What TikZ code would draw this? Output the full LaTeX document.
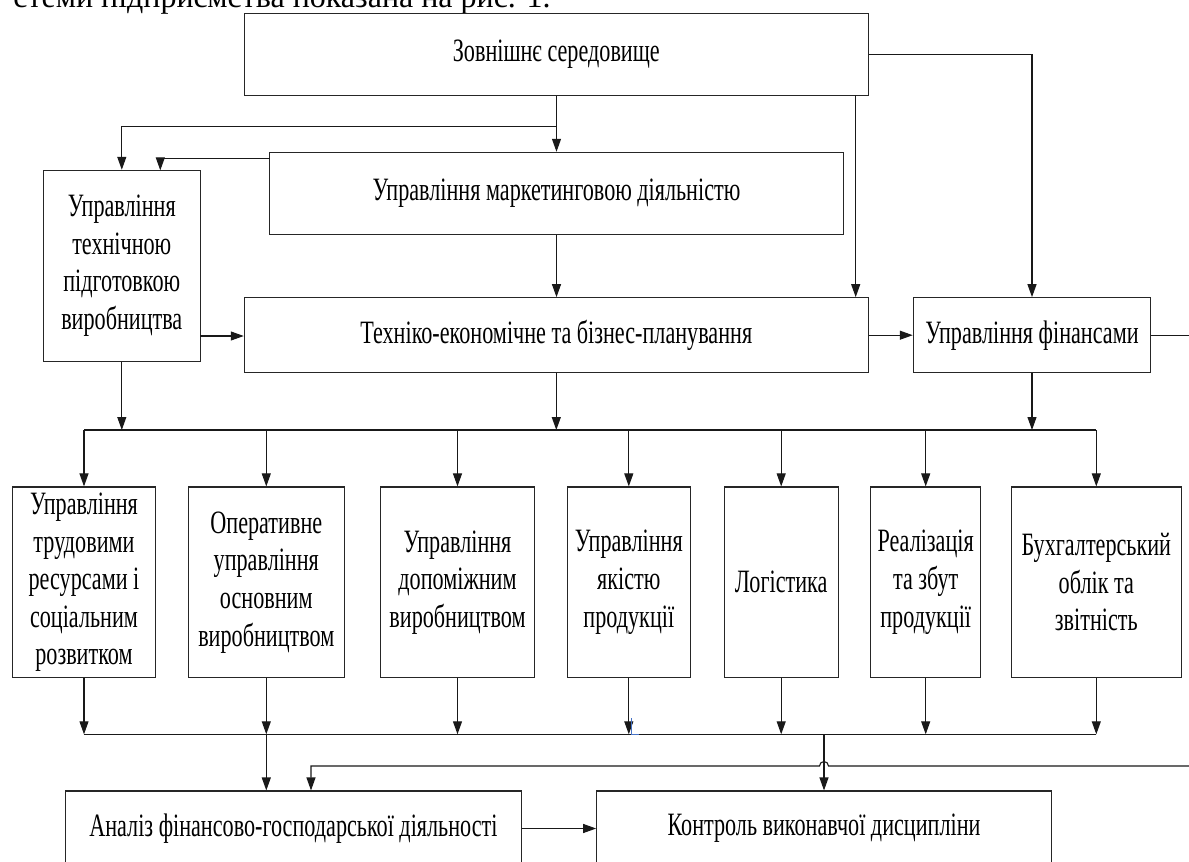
\documentclass[tikz,border=0pt]{standalone}
\usepackage{fontspec}
\setmainfont{Liberation Serif}
\newfontfamily\diagfont{Liberation Serif}[FakeStretch=0.68]
\usetikzlibrary{arrows.meta}
\definecolor{cursorblue}{RGB}{70,114,196}
\begin{document}
\begin{tikzpicture}[x=0.5pt,y=-0.5pt,
  box/.style={draw=black!85, line width=0.55pt, rectangle, inner sep=0pt, align=center,
    font=\diagfont\fontsize{16.3}{18.8}\selectfont},
  arr/.style={-{Triangle[length=6.5pt,width=4.5pt]}},
  ln/.style={draw=black!90, line width=0.55pt}]
\useasboundingbox (0,0) rectangle (1189,862);

% cut-off line of text above the figure
\node[anchor=base west, inner sep=0pt, font=\fontsize{16}{19}\selectfont] (cap) at (13,7.5) {стеми підприємства показана на рис. 1.};

% boxes
\node[box, minimum width=312pt, minimum height=40.85pt] (env) at (556.3,54.2) {Зовнішнє середовище};
\node[box, minimum width=286.8pt, minimum height=40.85pt] (mkt) at (556.5,193.2) {Управління маркетинговою діяльністю};
\node[box, minimum width=78.5pt, minimum height=95.35pt] (tech) at (121.8,265.7) {Управління\\технічною\\підготовкою\\виробництва};
\node[box, minimum width=312pt, minimum height=37.5pt] (teb) at (556.3,335.2) {Техніко-економічне та бізнес-планування};
\node[box, minimum width=118.7pt, minimum height=37.5pt] (fin) at (1032,335.2) {Управління фінансами};

\node[box, minimum width=71.3pt, minimum height=95.35pt] (b1) at (84,582.3) {Управління\\трудовими\\ресурсами і\\соціальним\\розвитком};
\node[box, minimum width=78pt, minimum height=95.35pt] (b2) at (266.3,582.3) {Оперативне\\управління\\основним\\виробництвом};
\node[box, minimum width=76.8pt, minimum height=95.35pt] (b3) at (457.5,582.3) {Управління\\допоміжним\\виробництвом};
\node[box, minimum width=61.5pt, minimum height=95.35pt] (b4) at (628.8,582.3) {Управління\\якістю\\продукції};
\node[box, minimum width=56.85pt, minimum height=95.35pt] (b5) at (781.2,582.3) {Логістика};
\node[box, minimum width=55pt, minimum height=95.35pt] (b6) at (925.7,582.3) {Реалізація\\та збут\\продукції};
\node[box, minimum width=85pt, minimum height=95.35pt] (b7) at (1096.3,582.3) {Бухгалтерський\\облік та\\звітність};

\node[box, minimum width=227.65pt, minimum height=37.5pt] (an) at (293.4,828.5) {Аналіз фінансово-господарської діяльності};
\node[box, minimum width=227.3pt, minimum height=37.5pt] (ctl) at (824,828.5) {Контроль виконавчої дисципліни};

% joints
\coordinate (j1) at (556.5,126.7);
\coordinate (m1) at (269.7,158.3);
\coordinate (t2) at (160.3,170.35);
\coordinate (e2) at (855.7,95.05);
\coordinate (t3) at (200.3,336);
\coordinate (fout) at (1189,335.2);
\coordinate (busL) at (84,430);
\coordinate (busR) at (1096.3,430);
\coordinate (lbL) at (84,734.3);
\coordinate (lbR) at (1096.3,734.3);
\coordinate (lb2) at (266.3,734.3);
\coordinate (lb3) at (824,734.3);
\coordinate (fb) at (1189,766);
\coordinate (hopR) at (828.5,766);
\coordinate (cornerA) at (311,766);

% connectors
\draw[ln,arr] (env.south -| mkt.north) -- (mkt.north);
\draw[ln,arr] (j1) -| (tech.north);
\draw[ln,arr] (m1) -| (t2);
\draw[ln,arr] (mkt.south) -- (mkt.south |- teb.north);
\draw[ln,arr] (e2) -- (e2 |- teb.north);
\draw[ln,arr] (env.east) -| (fin.north);
\draw[ln,arr] (t3) -- (t3 -| teb.west);
\draw[ln,arr] (teb.east) -- (fin.west);
\draw[ln] (fin.east) -- (fout);

\draw[ln] (busL) -- (busR);
\draw[ln,arr] (tech.south) -- (tech.south |- busL);
\draw[ln,arr] (teb.south) -- (teb.south |- busL);
\draw[ln,arr] (fin.south) -- (fin.south |- busL);
\foreach \b in {b1,b2,b3,b4,b5,b6,b7}{
  \draw[ln,arr] (\b.north |- busL) -- (\b.north);
  \draw[ln,arr] (\b.south) -- (\b.south |- lbL);
}
\draw[ln] (lbL) -- (lbR);
\draw[ln,arr] (lb2) -- (lb2 |- an.north);
\draw[ln,arr] (lb3) -- (ctl.north);
\draw[ln,arr] (fb) -- (hopR) arc[start angle=0, end angle=-180, radius=4.5] -- (cornerA) -- (cornerA |- an.north);
\draw[ln,arr] (an.east) -- (ctl.west);

% small blue cursor mark
\draw[cursorblue, line width=0.5pt] (631.5,718) -- (631.5,734.3) -- (638.5,734.3);
\end{tikzpicture}
\end{document}
